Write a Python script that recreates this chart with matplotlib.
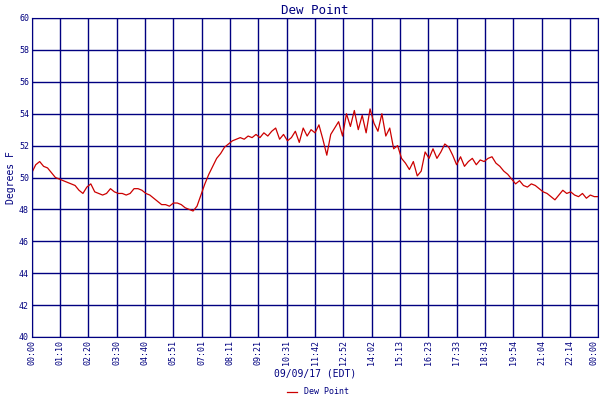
import matplotlib
matplotlib.use('Agg')
import matplotlib.pyplot as plt
import numpy as np

# dew point every 10 minutes, 00:00 .. 24:00
dew_point = [
	50.3, 50.8, 51.0, 50.7, 50.6, 50.3,
	50.0, 49.9, 49.8, 49.7, 49.6, 49.5,
	49.2, 49.0, 49.4, 49.6, 49.1, 49.0,
	48.9, 49.0, 49.3, 49.1, 49.0, 49.0,
	48.9, 49.0, 49.3, 49.3, 49.2, 49.0,
	48.9, 48.7, 48.5, 48.3, 48.3, 48.2,
	48.4, 48.4, 48.3, 48.1, 48.0, 47.9,
	48.2, 48.9, 49.6, 50.2, 50.7, 51.2,
	51.5, 51.9, 52.1, 52.3, 52.4, 52.5,
	52.4, 52.6, 52.5, 52.7, 52.5, 52.8,
	52.6, 52.9, 53.1, 52.4, 52.7, 52.3,
	52.5, 52.9, 52.2, 53.1, 52.6, 53.0,
	52.8, 53.3, 52.4, 51.4, 52.7, 53.1,
	53.5, 52.6, 54.0, 53.2, 54.2, 53.0,
	53.9, 52.8, 54.3, 53.4, 52.9, 54.0,
	52.6, 53.1, 51.8, 52.0, 51.2, 50.9,
	50.5, 51.0, 50.1, 50.4, 51.6, 51.2,
	51.8, 51.2, 51.6, 52.1, 51.9, 51.4,
	50.8, 51.3, 50.7, 51.0, 51.2, 50.8,
	51.1, 51.0, 51.2, 51.3, 50.9, 50.7,
	50.4, 50.2, 49.9, 49.6, 49.8, 49.5,
	49.4, 49.6, 49.5, 49.3, 49.1, 49.0,
	48.8, 48.6, 48.9, 49.2, 49.0, 49.1,
	48.9, 48.8, 49.0, 48.7, 48.9, 48.8,
	48.8,
]
tick_labels = ['00:00', '01:10', '02:20', '03:30', '04:40', '05:51', '07:01', '08:11',
	'09:21', '10:31', '11:42', '12:52', '14:02', '15:13', '16:23', '17:33',
	'18:43', '19:54', '21:04', '22:14', '00:00']

navy = '#000080'
font = 'DejaVu Sans Mono'

hours = np.arange(len(dew_point)) / 6.0
tick_pos = np.linspace(0, 24, len(tick_labels))

fig = plt.figure(figsize=(6, 4), dpi=100)
ax = fig.add_axes([0.053, 0.1575, 0.944, 0.7975])
ax.plot(hours, dew_point, color='#cc0000', lw=0.9, label='Dew Point')
ax.set_xlim(0, 24)
ax.set_ylim(40, 60)
ax.set_yticks(range(40, 61, 2))
ax.set_xticks(tick_pos)
ax.set_xticklabels(tick_labels, rotation=90, fontsize=6, color=navy, family=font)
ax.get_xticklabels()[-1].set_horizontalalignment('right')
for t in ax.get_yticklabels():
	t.set_fontsize(6)
	t.set_color(navy)
	t.set_family(font)
ax.tick_params(length=0, pad=2)
ax.grid(True, color=navy, lw=1)
for s in ax.spines.values():
	s.set_color(navy)
ax.set_title('Dew Point', color=navy, fontsize=9, family=font, pad=3)
ax.set_ylabel('Degrees F', color=navy, fontsize=7, family=font, labelpad=2)
ax.set_xlabel('09/09/17 (EDT)', color=navy, fontsize=7, family=font, labelpad=3)
leg = fig.legend(loc='lower center', bbox_to_anchor=(0.53, -0.01), frameon=False,
	prop={'family': font, 'size': 6}, handlelength=1.2)
for t in leg.get_texts():
	t.set_color(navy)
fig.savefig('out.png', dpi=100)
